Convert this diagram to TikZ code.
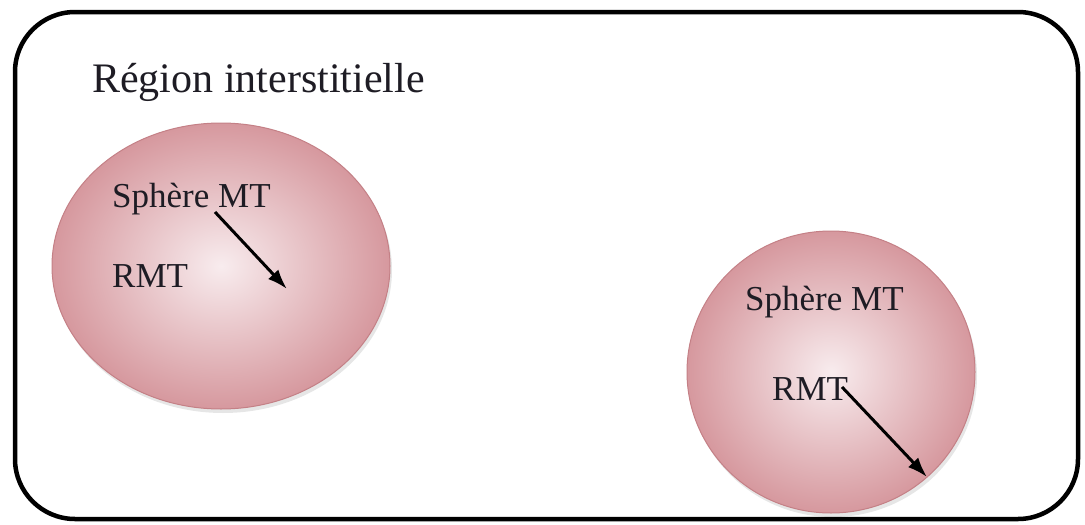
\documentclass[tikz,border=0pt]{standalone}
\usepackage{fontspec}
\setmainfont{Liberation Serif}
\usetikzlibrary{shapes.geometric,shadows,arrows.meta}
\definecolor{rosedark}{RGB}{214,152,158}
\definecolor{roselight}{RGB}{248,236,238}
\definecolor{roseedge}{RGB}{196,128,134}
\definecolor{txt}{RGB}{30,28,36}
\tikzset{
  sphere/.style={ellipse, draw=roseedge, line width=1pt, inner color=roselight, outer color=rosedark,
    drop shadow={shadow xshift=2pt, shadow yshift=-4pt, opacity=0.2, fill=black!50}},
  lbl/.style={anchor=base west, inner sep=0pt, font=\fontsize{35}{40}\selectfont, text=txt},
  ttl/.style={anchor=base west, inner sep=0pt, font=\fontsize{42}{48}\selectfont, text=txt},
  radarrow/.style={-{Latex[length=20pt,width=14pt]}, line width=3pt, black}
}
\begin{document}
\begin{tikzpicture}[x=1pt,y=-1pt]
\useasboundingbox (0,0) rectangle (1085,525);
\draw[line width=4.5pt, rounded corners=60pt] (15,12) rectangle (1078,519);
\node[ttl] (title) at (92,92) {Région interstitielle};
\node[sphere, minimum width=338pt, minimum height=286pt] (s1) at (221,266) {};
\node[sphere, minimum width=288pt, minimum height=282pt] (s2) at (831,372) {};
\node[lbl] (sp1) at (112,207) {Sphère MT};
\node[lbl] (r1) at (112,287) {RMT};
\node[lbl] (sp2) at (745,310) {Sphère MT};
\node[lbl] (r2) at (772,400) {RMT};
\coordinate (a1s) at (215,212);
\coordinate (a1e) at (287,289);
\coordinate (a2s) at (842,387);
\coordinate (a2e) at (927,477);
\draw[radarrow] (a1s) -- (a1e);
\draw[radarrow] (a2s) -- (a2e);
\end{tikzpicture}
\end{document}
